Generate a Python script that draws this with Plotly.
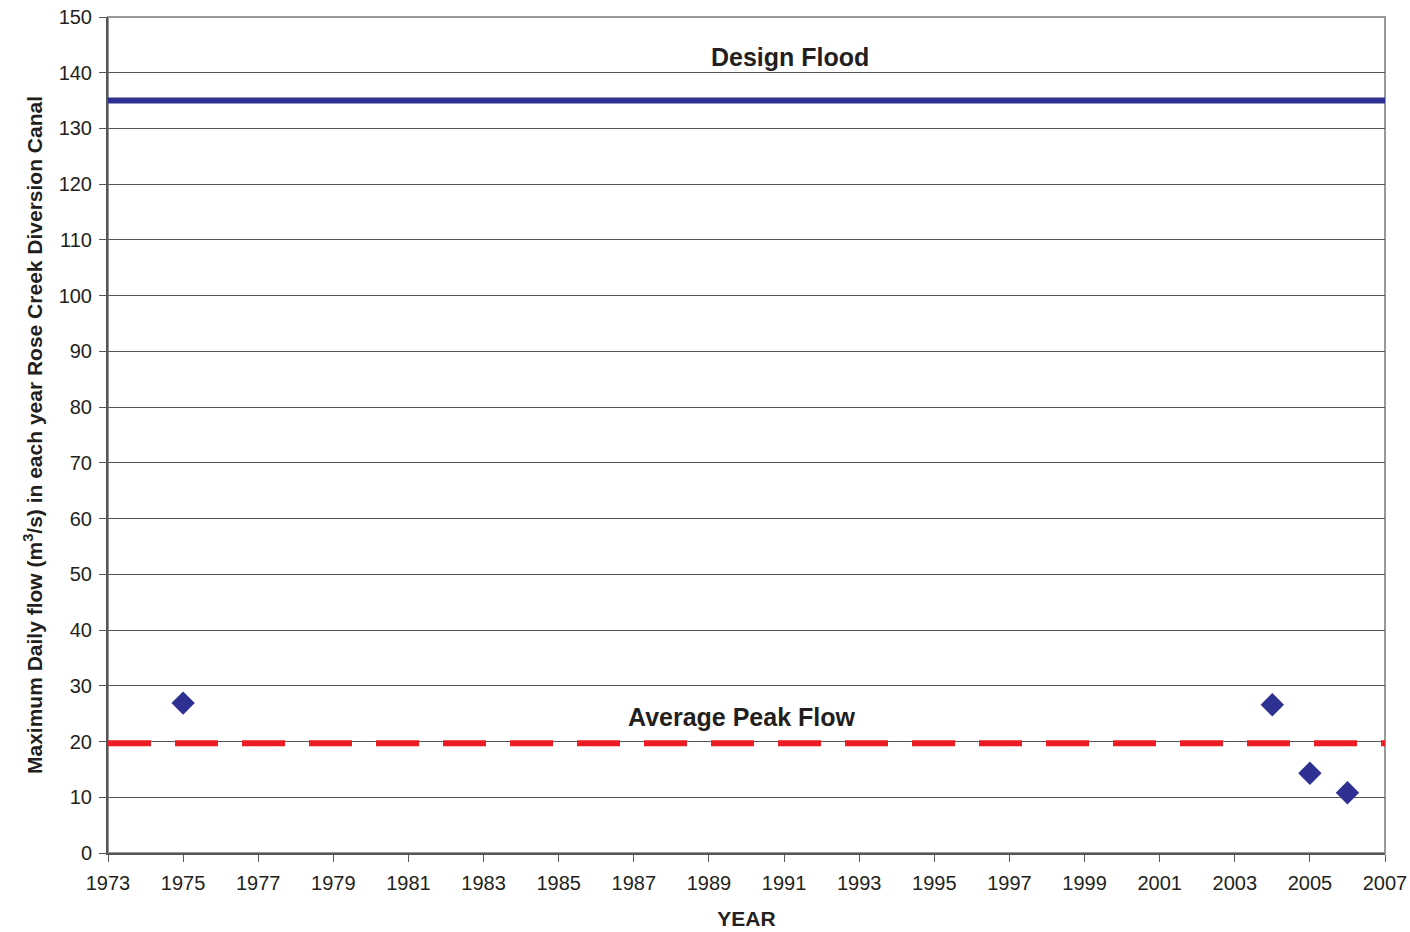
import plotly.graph_objects as go

years = [1975, 2004, 2005, 2006]
max_daily_flow = [26.9, 26.6, 14.3, 10.8]
design_flood = 135
average_peak_flow = 19.7
x_range = [1973, 2007]
x_ticks = list(range(1973, 2008, 2))
y_ticks = list(range(0, 151, 10))

BLUE = "#2E3192"
RED = "#ED1C24"
TXT = "#231F20"
FONT = "Liberation Sans, Arial"

fig = go.Figure()
fig.add_trace(go.Scatter(x=x_range, y=[design_flood, design_flood], mode="lines",
                         line=dict(color=BLUE, width=6), hoverinfo="skip", showlegend=False))
fig.add_trace(go.Scatter(x=x_range, y=[average_peak_flow, average_peak_flow], mode="lines",
                         line=dict(color=RED, width=6, dash="43px,24px"), hoverinfo="skip", showlegend=False))
fig.add_trace(go.Scatter(x=years, y=max_daily_flow, mode="markers",
                         marker=dict(symbol="diamond", size=18, color=BLUE, line=dict(width=0)),
                         showlegend=False))

fig.add_annotation(x=1991.16, y=142.8, text="<b>Design Flood</b>", showarrow=False,
                   font=dict(size=25, color=TXT, family=FONT))
fig.add_annotation(x=1989.88, y=24.4, text="<b>Average Peak Flow</b>", showarrow=False,
                   font=dict(size=25, color=TXT, family=FONT))

fig.update_layout(
    width=1410, height=932,
    margin=dict(l=108, r=25, t=17, b=79, autoexpand=False),
    plot_bgcolor="white", paper_bgcolor="white",
    font=dict(family=FONT, color=TXT, size=20),
)
fig.update_xaxes(range=x_range, tickvals=x_ticks, ticks="outside", ticklen=7, tickcolor="#555",
                 showgrid=False, zeroline=False, showline=True, linecolor="#555", linewidth=2,
                 mirror=False, tickfont=dict(size=20), automargin=False, ticklabelstandoff=4,
                 ticklabeloverflow="allow",
                 title=dict(text="<b>YEAR</b>", font=dict(size=21), standoff=18))
fig.update_yaxes(range=[0, 150], tickvals=y_ticks, ticks="outside", ticklen=7, tickcolor="#555",
                 showgrid=True, gridcolor="#555", gridwidth=1, zeroline=False,
                 showline=True, linecolor="#555", linewidth=2, tickfont=dict(size=20), automargin=False,
                 ticklabelstandoff=3, ticklabeloverflow="allow",
                 title=dict(text="<b>Maximum Daily flow (m<sup>3</sup>/s) in each year Rose Creek Diversion Canal</b>",
                            font=dict(size=21), standoff=10))
# top and right gray frame
fig.add_shape(type="rect", xref="paper", yref="paper", x0=0, x1=1, y0=0, y1=1,
              line=dict(color="#999", width=2), layer="below")

fig.write_html("out.html", config={"displayModeBar": False},
               post_script="document.body.style.margin='0';document.body.style.overflow='hidden';")
